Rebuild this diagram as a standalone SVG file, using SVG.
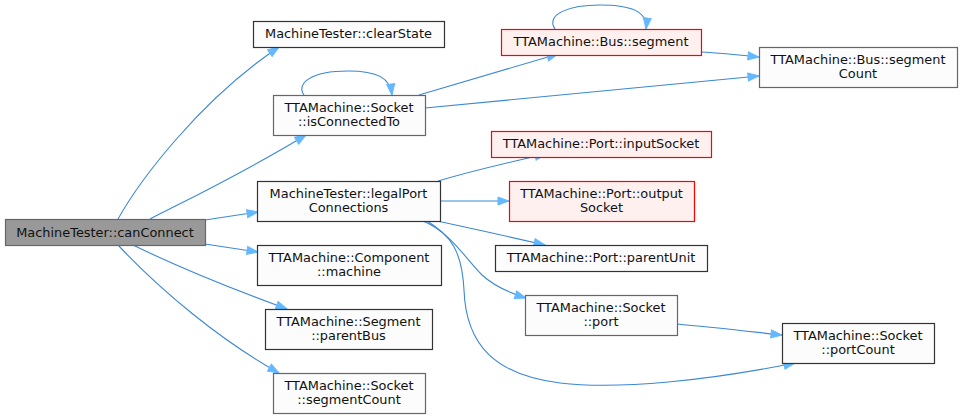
<svg xmlns="http://www.w3.org/2000/svg" width="963" height="418" viewBox="0 0 963 418">
<style>
.n rect{fill:#fbfcfb;stroke:#666666;stroke-width:1.2}
.n.d rect{stroke:#333333}
.n.r rect{fill:#fff0f0;stroke:#ff0000}
.n.root rect{fill:#999999;stroke:#666666}
text{font-family:"DejaVu Sans",sans-serif;font-size:12.9px;fill:#111111;text-anchor:middle}
.e path{fill:none;stroke:#3a88d4;stroke-width:1.1;marker-end:url(#ah)}
</style>
<defs>
<marker id="ah" markerUnits="userSpaceOnUse" markerWidth="14" markerHeight="11" refX="12" refY="5" orient="auto" viewBox="0 0 14 11">
<path d="M1,1 L12,5 L1,9 z" fill="#63b8ff" stroke="#63b8ff" stroke-width="1"/>
</marker>
</defs>
<rect width="963" height="418" fill="#ffffff"/>
<g id="edges" class="e">
<path d="M118,219 C140,180 200,100 279,47"/>
<path d="M150,219 C195,196 245,172 306,135"/>
<path d="M205,220 L258,212"/>
<path d="M205,244 L258,252"/>
<path d="M133,245 C180,268 235,290 287,309"/>
<path d="M118,245 C160,290 220,340 279,373"/>
<path d="M304,95 C296,84 310,71 348,71 C378,71 390,78 392,95"/>
<path d="M419,95 C460,83 505,70 558,54"/>
<path d="M425,108 L759,76"/>
<path d="M555,29 C545,14 570,5 600,5 C632,5 648,12 646,29"/>
<path d="M701,52 C720,53 740,55 759,57"/>
<path d="M438,181 C475,170 510,162 546,154"/>
<path d="M440,201 L509,201"/>
<path d="M437,221 C475,229 510,237 545,245"/>
<path d="M423,221 C450,232 465,258 482,275 C495,287 510,293 526,298"/>
<path d="M427,221 C450,235 462,250 464,290 C466,345 495,375 560,383 C620,390 710,380 795,363"/>
<path d="M677,324 C710,327 745,331 782,335"/>
</g>
<g id="canConnect" class="n root"><rect x="5.5" y="219.5" width="200" height="26"/><text x="105" y="236.5">MachineTester::canConnect</text></g>
<g id="clearState" class="n d"><rect x="253.5" y="21.5" width="191" height="26"/><text x="348.5" y="37.5">MachineTester::clearState</text></g>
<g id="isConnectedTo" class="n"><rect x="273.5" y="95.5" width="152" height="40"/><text x="349" y="111.5">TTAMachine::Socket</text><text x="349" y="126">::isConnectedTo</text></g>
<g id="legalPortConnections" class="n d"><rect x="257.5" y="181.5" width="183" height="40"/><text x="348.5" y="197.5">MachineTester::legalPort</text><text x="348.5" y="212">Connections</text></g>
<g id="componentMachine" class="n d"><rect x="257.5" y="245.5" width="184" height="40"/><text x="349" y="261.5">TTAMachine::Component</text><text x="349" y="276">::machine</text></g>
<g id="segmentParentBus" class="n d"><rect x="265.5" y="309.5" width="167" height="40"/><text x="348.5" y="325.5">TTAMachine::Segment</text><text x="348.5" y="340">::parentBus</text></g>
<g id="socketSegmentCount" class="n"><rect x="273.5" y="373.5" width="152" height="40"/><text x="349" y="389.5">TTAMachine::Socket</text><text x="349" y="404">::segmentCount</text></g>
<g id="busSegment" class="n r"><rect x="501.5" y="29.5" width="200" height="26"/><text x="601" y="45.5">TTAMachine::Bus::segment</text></g>
<g id="busSegmentCount" class="n"><rect x="759.5" y="47.5" width="198" height="40"/><text x="858" y="63.5">TTAMachine::Bus::segment</text><text x="858" y="78">Count</text></g>
<g id="portInputSocket" class="n r"><rect x="491.5" y="131.5" width="220" height="26"/><text x="601" y="147.5">TTAMachine::Port::inputSocket</text></g>
<g id="portOutputSocket" class="n r"><rect x="509.5" y="181.5" width="185" height="40"/><text x="601.5" y="197.5">TTAMachine::Port::output</text><text x="601.5" y="212">Socket</text></g>
<g id="portParentUnit" class="n d"><rect x="495.5" y="245.5" width="212" height="26"/><text x="601" y="261.5">TTAMachine::Port::parentUnit</text></g>
<g id="socketPort" class="n"><rect x="525.5" y="295.5" width="152" height="40"/><text x="601" y="311.5">TTAMachine::Socket</text><text x="601" y="326">::port</text></g>
<g id="socketPortCount" class="n d"><rect x="782.5" y="323.5" width="152" height="40"/><text x="858" y="339.5">TTAMachine::Socket</text><text x="858" y="354">::portCount</text></g>
</svg>
